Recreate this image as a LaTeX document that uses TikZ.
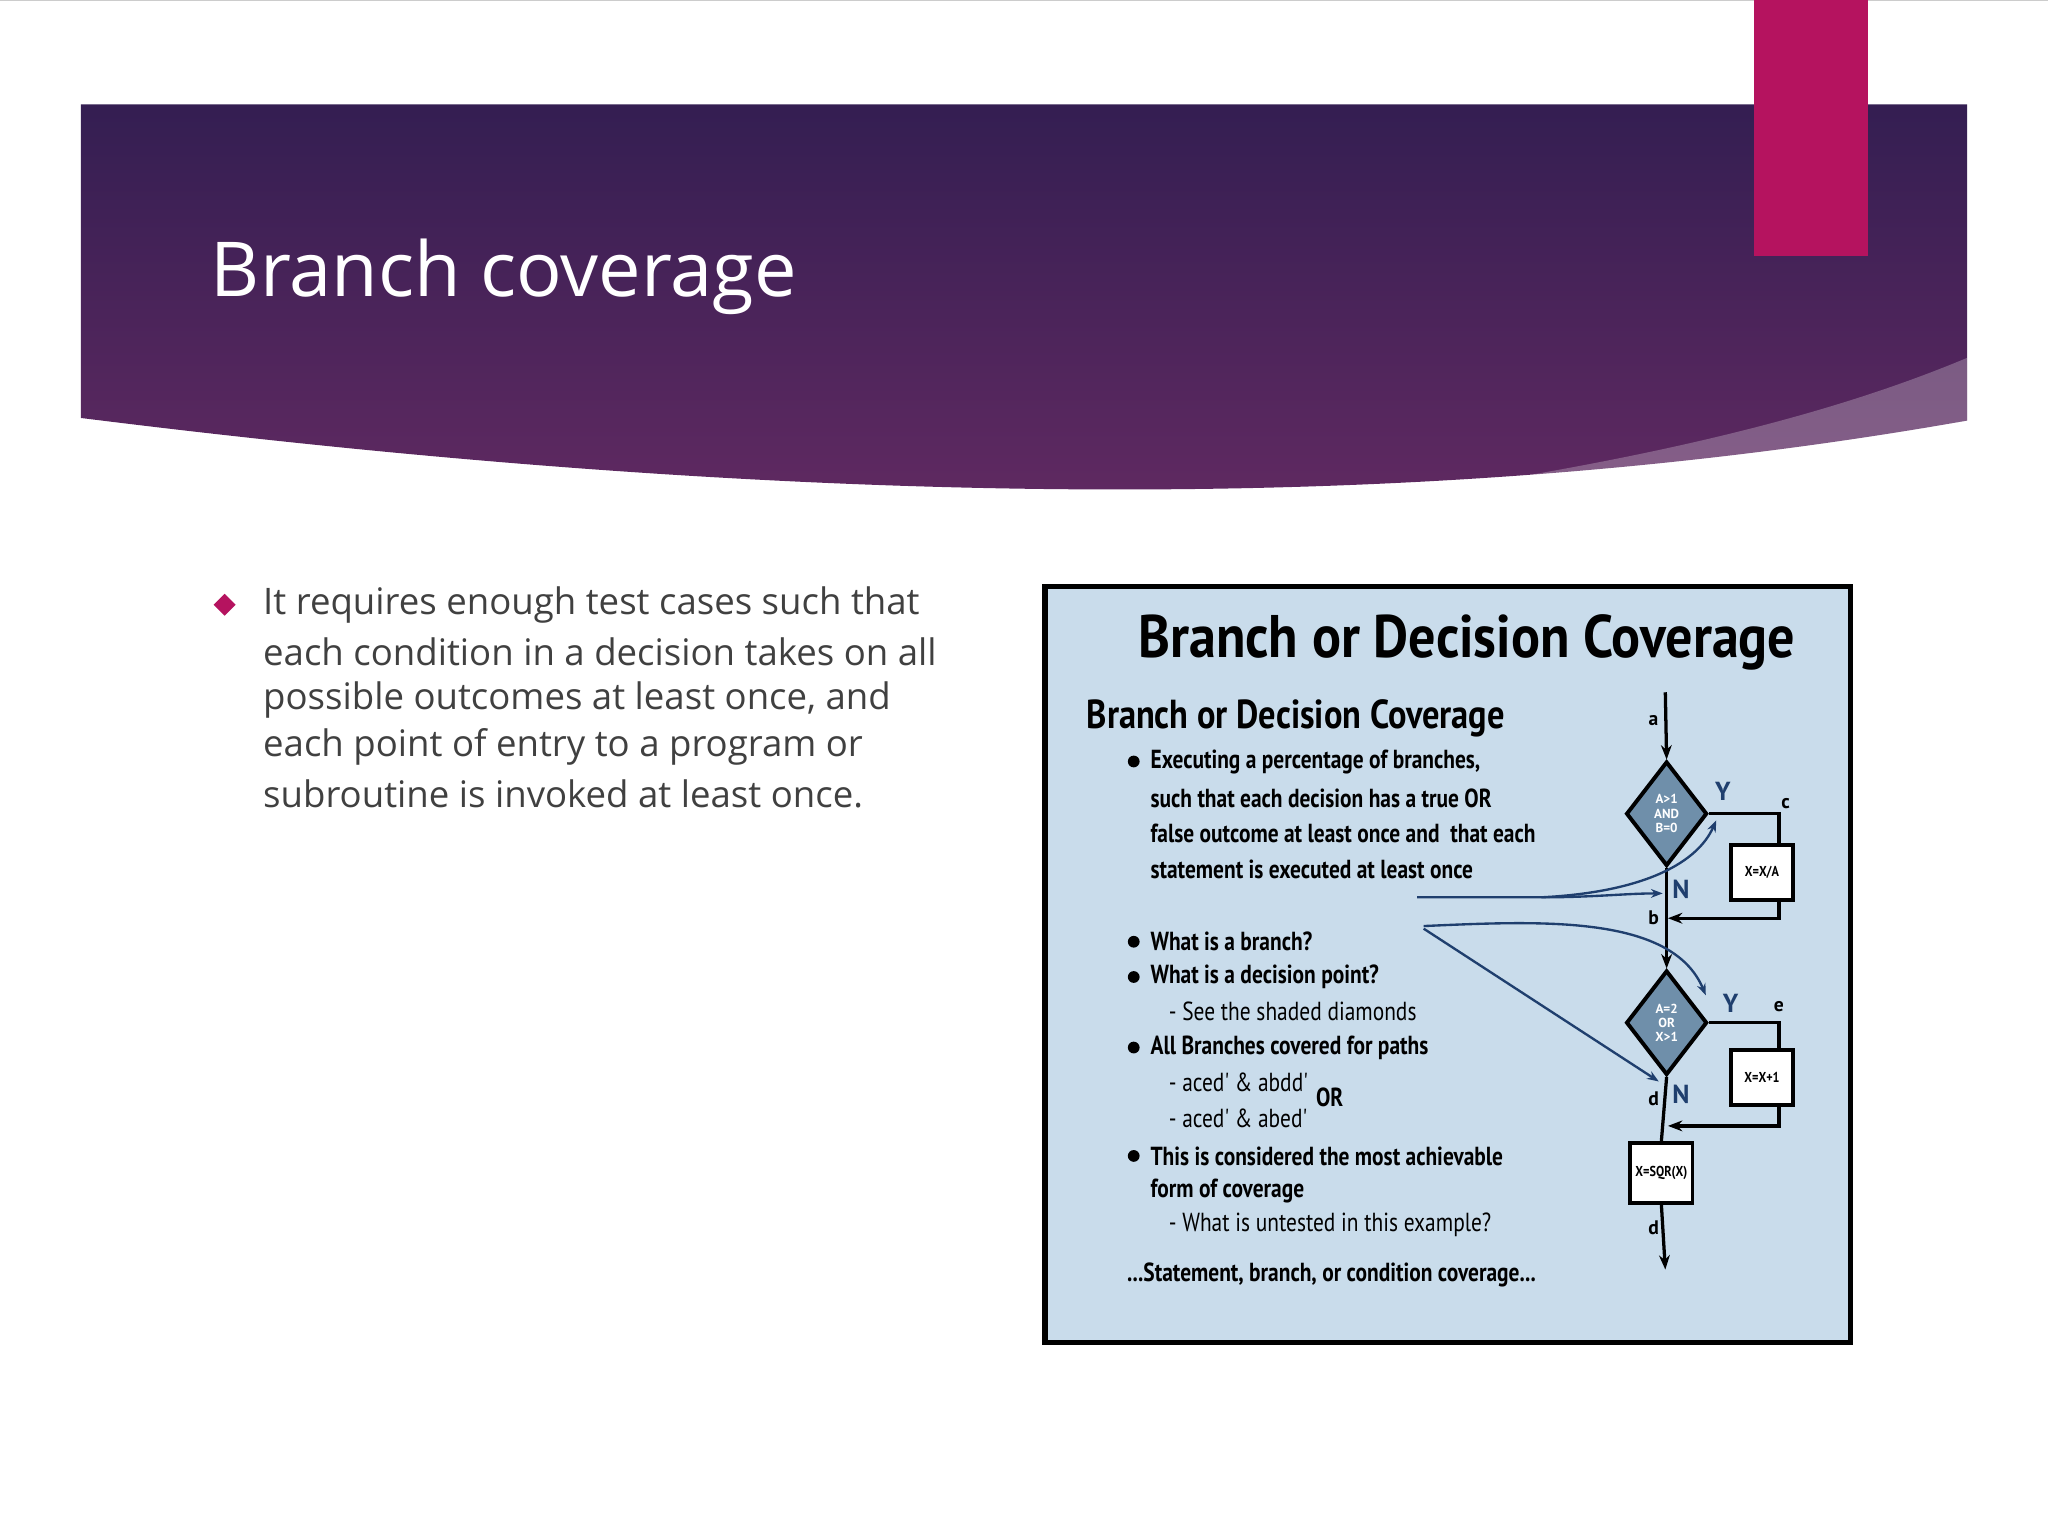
\documentclass[tikz,border=0pt]{standalone}
\usepackage{fontspec}
\setmainfont{Open Sans}
\newfontfamily\cond{PT Sans}
\usetikzlibrary{shapes.geometric,arrows.meta}
\definecolor{bgblue}{HTML}{C9DCEB}
\definecolor{flowblue}{HTML}{1F3F6E}
\definecolor{dia}{HTML}{6F8FAA}
\definecolor{pink}{HTML}{B5135F}
\begin{document}
\begin{tikzpicture}[x=1pt,y=-1pt,
  body/.style={anchor=west,text=black!75,font=\fontsize{28}{28}\selectfont},
  small/.style={anchor=west,font=\cond\bfseries\fontsize{20}{20}\selectfont,xscale=0.82},
  sub/.style={anchor=west,font=\cond\fontsize{20}{20}\selectfont,xscale=0.82},
  lab/.style={font=\cond\bfseries\fontsize{15}{15}\selectfont},
  bl/.style={font=\cond\bfseries\fontsize{20}{20}\selectfont,text=flowblue},
  boxn/.style={draw,line width=3pt,fill=white,minimum width=56pt,minimum height=42pt,font=\cond\bfseries\fontsize{11}{11}\selectfont,xscale=0.85},
  dnode/.style={diamond,draw,line width=3pt,fill=dia,minimum width=62pt,minimum height=80pt,inner sep=0pt,font=\cond\bfseries\fontsize{10}{11}\selectfont,align=center,text=white},
  fl/.style={line width=2.5pt},
  cur/.style={flowblue,line width=1.8pt,-{Stealth[length=9pt]}}]
\useasboundingbox (0,0) rectangle (1568,1176);
\fill[white] (0,0) rectangle (1568,1176);
\draw[black!20] (0,0.5) -- (1568,0.5);
% banner
\shade[top color={rgb,255:red,52;green,30;blue,82},bottom color={rgb,255:red,98;green,42;blue,98}]
 (62,80) -- (1506,80) -- (1506,322) .. controls (1150,385) and (700,400) .. (62,320) -- cycle;
\fill[white,opacity=0.25] (1095,376) .. controls (1300,345) and (1420,310) .. (1506,274) -- (1506,322) .. controls (1380,348) and (1250,368) .. (1095,376) -- cycle;
\fill[pink] (1343,0) rectangle (1430,196);
\node[anchor=west,text=white,font=\fontsize{58}{58}\selectfont] (title) at (158,212) {Branch coverage};
% bullet
\node[diamond,fill=pink,minimum width=17pt,minimum height=17pt,inner sep=0pt] (bd) at (172,463) {};
\node[body] (l1) at (198,463) {It requires enough test cases such that};
\node[body] (l2) at (198,499) {each condition in a decision takes on all};
\node[body] (l3) at (198,536) {possible outcomes at least once, and};
\node[body] (l4) at (198,572) {each point of entry to a program or};
\node[body] (l5) at (198,608) {subroutine is invoked at least once.};
% image
\draw[line width=4pt,fill=bgblue] (800,449) rectangle (1417,1028);
\node[font=\cond\bfseries\fontsize{46}{46}\selectfont,xscale=0.9] (it) at (1123,492) {Branch or Decision Coverage};
\node[anchor=west,font=\cond\bfseries\fontsize{31}{31}\selectfont,xscale=0.85] (st) at (829,550) {Branch or Decision Coverage};
\foreach \y in {583,721,748,802,885} \fill (868,\y) circle (4.5pt);
\node[small] at (878,583) {Executing a percentage of branches,};
\node[small] at (878,611) {such that each decision has a true OR};
\node[small] at (878,638) {false outcome at least once and\ \ that each};
\node[small] at (878,666) {statement is executed at least once};
\node[small] at (878,721) {What is a branch?};
\node[small] at (878,748) {What is a decision point?};
\node[sub] at (892,774) {- See the shaded diamonds};
\node[small] at (878,802) {All Branches covered for paths};
\node[sub] at (892,829) {- aced' \& abdd'};
\node[sub] at (892,856) {- aced' \& abed'};
\node[small,anchor=center] at (1018,840) {OR};
\node[small] at (878,885) {This is considered the most achievable};
\node[small] at (878,912) {form of coverage};
\node[sub] at (892,938) {- What is untested in this example?};
\node[small] at (860,976) {...Statement, branch, or condition coverage...};
% flowchart
\coordinate (top) at (1275,530);
\coordinate (bot) at (1275,972);
\node[dnode] (d1) at (1276,623) {A>1\\AND\\B=0};
\node[dnode] (d2) at (1276,783) {A=2\\OR\\X>1};
\node[boxn] (b1) at (1349,668) {X=X/A};
\node[boxn] (b2) at (1349,825) {X=X+1};
\node[boxn,minimum height=46pt] (b3) at (1272,898) {X=SQR(X)};
\draw[fl,-{Stealth[length=11pt]}] (top) -- (d1.north);
\draw[fl,-{Stealth[length=11pt]}] (d1.south) -- (d2.north);
\draw[fl] (d2.south) -- (b3.north);
\draw[fl,-{Stealth[length=11pt]}] (b3.south) -- (bot);
\draw[fl] (d1.east) -- (1362,623) -- (1362,647);
\draw[fl,-{Stealth[length=11pt]}] (1362,689) -- (1362,703) -- (1277,703);
\draw[fl] (d2.east) -- (1362,783) -- (1362,804);
\draw[fl,-{Stealth[length=11pt]}] (1362,846) -- (1362,862) -- (1277,862);
\node[lab] at (1266,552) {a};
\node[lab] at (1266,703) {b};
\node[lab] at (1367,615) {c};
\node[lab] at (1266,841) {d};
\node[lab] at (1266,940) {d};
\node[lab] at (1362,771) {e};
\node[bl] at (1319,606) {Y};
\node[bl] at (1325,768) {Y};
\node[bl] at (1287,681) {N};
\node[bl] at (1287,838) {N};
\draw[cur] (1085,687) -- (1180,687) .. controls (1220,687) and (1245,684) .. (1273,684);
\draw[cur] (1180,687) .. controls (1260,683) and (1300,660) .. (1314,628);
\draw[cur] (1090,709) .. controls (1180,705) and (1280,700) .. (1306,762);
\draw[cur] (1090,711) -- (1270,828);
\end{tikzpicture}
\end{document}
